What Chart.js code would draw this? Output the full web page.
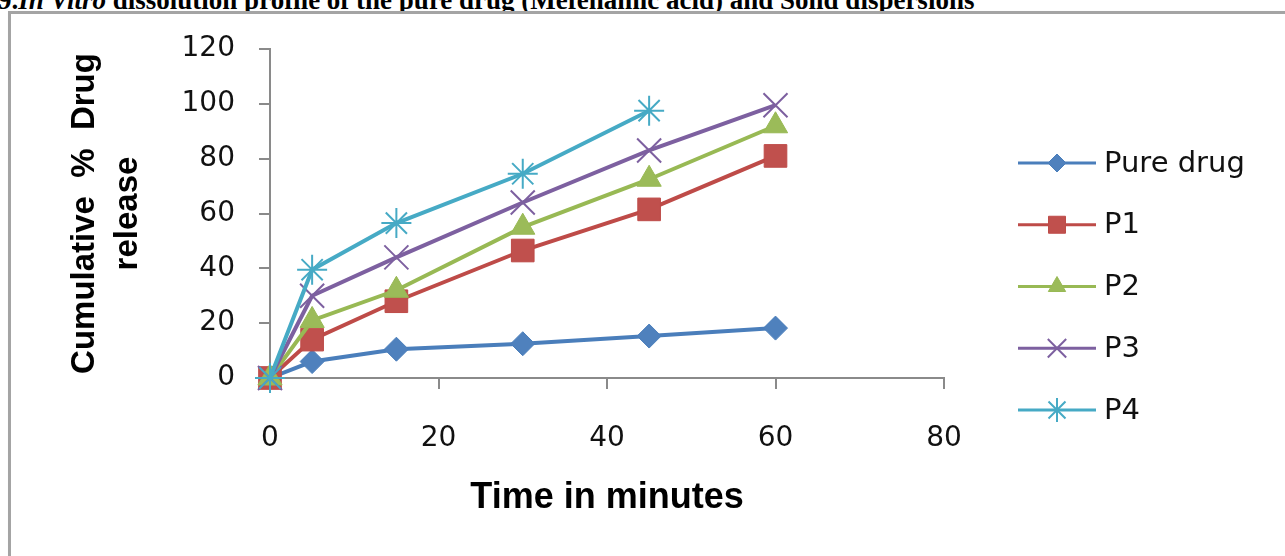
<!DOCTYPE html>
<html>
<head>
<meta charset="utf-8">
<script src="https://cdn.jsdelivr.net/npm/chart.js@4.4.1/dist/chart.umd.min.js"></script>
<style>
    body { margin: 0; width: 1285px; height: 556px; overflow: hidden; background: #fff; position: relative; }
    #caption {
        position: absolute; left: -2px; top: -13px; white-space: nowrap;
        font: bold 27px/27px "Liberation Serif", "Times New Roman", serif; color: #000;
    }
    #frame {
        position: absolute; left: 8px; top: 11px; right: -10px; bottom: -10px;
        border: 3px solid #a4a4a4; box-shadow: 1px 1px 2px rgba(0,0,0,0.15); background: #fff;
    }
    #wrap { position: absolute; left: 0; top: 0; width: 1285px; height: 556px; }
</style>
</head>
<body>
<div id="caption">9.<i>In Vitro</i> dissolution profile of the pure drug (Mefenamic acid) and Solid dispersions</div>
<div id="frame"></div>
<div id="wrap"><canvas id="releaseChart"></canvas></div>
<script>
// data
const timeMin = [0, 5, 15, 30, 45, 60];
const seriesNames = ['Pure drug', 'P1', 'P2', 'P3', 'P4'];
const pureDrug = [0, 6, 10.5, 12.5, 15.3, 18.2];
const p1 = [0, 14, 28, 46.5, 61.5, 81];
const p2 = [0, 21, 32, 55, 72.5, 92];
const p3 = [0, 30, 44, 64, 83, 99.5];
const p4 = [0, 39.5, 56.5, 74.5, 97.5];
const xTicks = [0, 20, 40, 60, 80];
const yTicks = [0, 20, 40, 60, 80, 100, 120];

const seriesValues = [pureDrug, p1, p2, p3, p4];

// look of each series (excel 2007 palette)
const seriesStyles = [
    { line: '#4A7EBB', fill: '#4F81BD', shape: 'rectRot', r: 12, lr: 9, bw: 1 },
    { line: '#BE4B48', fill: '#C0504D', shape: 'rect', r: 16, lr: 12, bw: 1 },
    { line: '#98B954', fill: '#9BBB59', shape: 'triangle', r: 14, lr: 10, bw: 1 },
    { line: '#7D60A0', fill: '#8064A2', shape: 'crossRot', r: 17, lr: 13, bw: 2 },
    { line: '#46AAC5', fill: '#4BACC6', shape: 'star', r: 15, lr: 12, bw: 2 }
];

function hasFont(name) {
    const c = document.createElement('canvas').getContext('2d');
    c.font = 'bold 40px monospace';
    const base = c.measureText('Cumulative release').width;
    c.font = `bold 40px "${name}", monospace`;
    return c.measureText('Cumulative release').width !== base;
}

const narrow = hasFont('Liberation Sans Narrow');
const yTitleFont = narrow
    ? { family: '"Liberation Sans Narrow"', size: 41, weight: 'bold', lineHeight: '43px' }
    : { family: '"Liberation Sans", Arial, sans-serif', size: 33, weight: 'bold', lineHeight: '43px' };

const datasets = seriesNames.map((name, i) => {
    const st = seriesStyles[i];
    return {
        label: name,
        data: seriesValues[i].map((v, k) => ({ x: timeMin[k], y: v })),
        borderColor: st.line,
        backgroundColor: st.fill,
        borderWidth: 4,
        pointStyle: st.shape,
        pointRadius: st.r,
        pointBackgroundColor: st.fill,
        pointBorderColor: st.line,
        pointBorderWidth: st.bw,
        tension: 0,
        clip: false,
        order: seriesNames.length - i
    };
});

// legend on the right with line + marker, as excel draws it
const sideLegend = {
    id: 'sideLegend',
    afterDraw(chart) {
        const ctx = chart.ctx;
        const x0 = 1018, x1 = 1096, textX = 1104;
        const y0 = 163, gap = 61.75;
        chart.data.datasets.forEach((ds, i) => {
            const st = seriesStyles[i];
            const y = y0 + i * gap;
            ctx.save();
            ctx.strokeStyle = st.line;
            ctx.lineWidth = 3;
            ctx.beginPath();
            ctx.moveTo(x0, y);
            ctx.lineTo(x1, y);
            ctx.stroke();
            ctx.fillStyle = st.fill;
            ctx.strokeStyle = st.line;
            ctx.lineWidth = st.bw;
            Chart.helpers.drawPoint(ctx, { pointStyle: st.shape, radius: st.lr, rotation: 0, borderWidth: st.bw }, (x0 + x1) / 2, y);
            ctx.fillStyle = '#111';
            ctx.font = '29px "DejaVu Sans", sans-serif';
            ctx.textBaseline = 'middle';
            ctx.textAlign = 'left';
            ctx.fillText(ds.label, textX, y + 1);
            ctx.restore();
        });
    }
};

const axisGray = '#8a8a8a';
const tickFont = { family: '"DejaVu Sans", sans-serif', size: 28 };

const ctx = document.getElementById('releaseChart').getContext('2d');
const releaseChart = new Chart(ctx, {
    type: 'line',
    data: { datasets: datasets },
    plugins: [sideLegend],
    options: {
        responsive: true,
        maintainAspectRatio: false,
        animation: false,
        layout: { padding: { left: 0, top: 49, right: 341, bottom: 0 } },
        plugins: {
            legend: { display: false },
            tooltip: { enabled: false }
        },
        scales: {
            x: {
                type: 'linear',
                min: xTicks[0],
                max: xTicks[xTicks.length - 1],
                afterBuildTicks: s => { s.ticks = xTicks.map(v => ({ value: v })); },
                afterFit: s => { s.height = 178; },
                grid: { drawOnChartArea: false, drawTicks: true, tickLength: 11, color: axisGray, lineWidth: 2 },
                border: { display: true, color: axisGray, width: 2 },
                ticks: { font: tickFont, color: '#111', padding: 33, maxRotation: 0 },
                title: {
                    display: true,
                    text: 'Time in minutes',
                    color: '#000',
                    font: { family: '"Liberation Sans", Arial, sans-serif', size: 36, weight: 'bold', lineHeight: 1.2 },
                    padding: { top: 0, bottom: 36 }
                }
            },
            y: {
                min: yTicks[0],
                max: yTicks[yTicks.length - 1],
                afterBuildTicks: s => { s.ticks = yTicks.map(v => ({ value: v })); },
                afterFit: s => { s.width = 270; },
                grid: { drawOnChartArea: false, drawTicks: true, tickLength: 11, color: axisGray, lineWidth: 2 },
                border: { display: true, color: axisGray, width: 2 },
                ticks: { font: tickFont, color: '#111', padding: 24 },
                title: {
                    display: true,
                    text: ['Cumulative  %  Drug', 'release'],
                    color: '#000',
                    font: yTitleFont,
                    padding: { top: 63, bottom: 0 }
                }
            }
        }
    }
});
</script>
</body>
</html>
